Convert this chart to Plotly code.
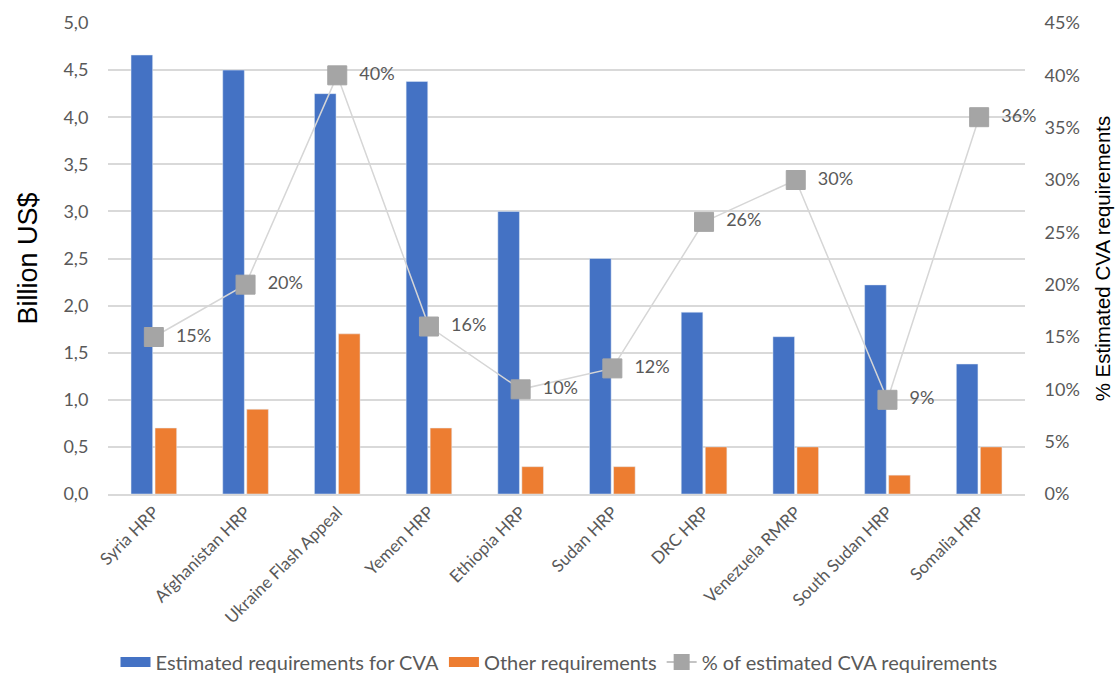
import plotly.graph_objects as go

categories = ["Syria HRP", "Afghanistan HRP", "Ukraine Flash Appeal", "Yemen HRP",
              "Ethiopia HRP", "Sudan HRP", "DRC HRP", "Venezuela RMRP",
              "South Sudan HRP", "Somalia HRP"]
cva = [4.66, 4.50, 4.25, 4.38, 3.00, 2.50, 1.93, 1.67, 2.22, 1.38]
other = [0.70, 0.90, 1.70, 0.70, 0.29, 0.29, 0.50, 0.50, 0.20, 0.50]
pct = [15, 20, 40, 16, 10, 12, 26, 30, 9, 36]

FONT = "Lato"
GRAY = "#595959"
BLUE = "#4472c4"
ORANGE = "#ed7d31"
MGRAY = "#a5a5a5"

fig = go.Figure()
fig.add_trace(go.Bar(x=categories, y=cva, name="Estimated requirements for CVA",
                     marker_color=BLUE, showlegend=False))
fig.add_trace(go.Bar(x=categories, y=other, name="Other requirements",
                     marker_color=ORANGE, showlegend=False))
fig.add_trace(go.Scatter(x=categories, y=pct, yaxis="y2", mode="lines+markers+text",
                         name="% of estimated CVA requirements", showlegend=False,
                         cliponaxis=False,
                         line=dict(color="#d6d6d6", width=1.5),
                         marker=dict(symbol="square", size=19, color=MGRAY,
                                     line=dict(color=MGRAY, width=1)),
                         text=["  %d%%" % v for v in pct],
                         textposition="middle right",
                         textfont=dict(size=18, color=GRAY, family=FONT)))
# legend entries (wide swatches like the original)
fig.add_trace(go.Scatter(x=[None], y=[None], mode="lines", name="Estimated requirements for CVA",
                         line=dict(color=BLUE, width=12)))
fig.add_trace(go.Scatter(x=[None], y=[None], mode="lines", name="Other requirements",
                         line=dict(color=ORANGE, width=12)))
fig.add_trace(go.Scatter(x=[None], y=[None], mode="lines+markers", yaxis="y2",
                         name="% of estimated CVA requirements",
                         line=dict(color="#b0b0b0", width=1.5),
                         marker=dict(symbol="square", size=17, color=MGRAY)))

fig.update_layout(
    width=1118, height=673,
    margin=dict(l=108, r=93, t=23, b=179),
    paper_bgcolor="white", plot_bgcolor="white",
    separators=",.",
    barmode="group", bargap=0.476, bargroupgap=0.1,
    font=dict(family=FONT, color=GRAY, size=17),
    xaxis=dict(tickangle=-45, tickfont=dict(size=17, color=GRAY), automargin=False,
               range=[-0.5, len(categories) - 0.5],
               showline=True, linecolor="#d9d9d9", linewidth=1.5,
               ticks="", showgrid=False),
    yaxis=dict(range=[0, 5], dtick=0.5, tickformat=".1f", automargin=False,
               showgrid=True, gridcolor="#d9d9d9", gridwidth=1.5,
               zeroline=False, ticks="outside", ticklen=15, tickcolor="rgba(0,0,0,0)",
               tickfont=dict(size=18, color=GRAY),
               title=dict(text="Billion US$", font=dict(family="Liberation Sans", size=27, color="black"),
                          standoff=17)),
    yaxis2=dict(range=[0, 45], dtick=5, ticksuffix="%", overlaying="y", side="right",
                automargin=False,
                showgrid=False, zeroline=False, ticks="outside", ticklen=15,
                tickcolor="rgba(0,0,0,0)", tickfont=dict(size=18, color=GRAY),
                title=dict(text="% Estimated CVA requirements",
                           font=dict(family="Liberation Sans", size=20.5, color="black"),
                           standoff=16)),
    legend=dict(orientation="h", xref="container", x=0.5, xanchor="center",
                yref="container", y=1 - 662 / 673, yanchor="middle",
                font=dict(size=20, color=GRAY, family=FONT),
                traceorder="normal"),
    showlegend=True,
)

fig.write_html("out.html")
